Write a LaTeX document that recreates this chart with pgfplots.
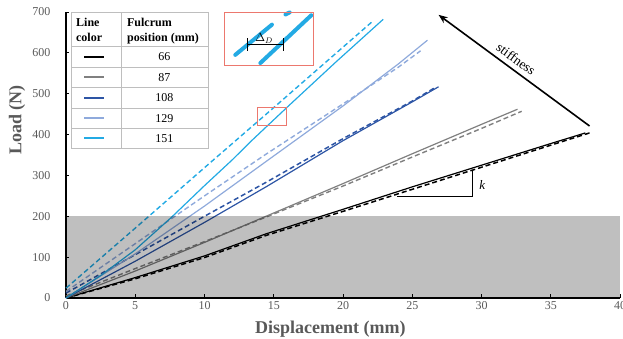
\documentclass[border=0pt]{standalone}
\usepackage{fontspec}
\setmainfont{Liberation Serif}
\usepackage{pgfplots}
\pgfplotsset{compat=1.18}
\usetikzlibrary{arrows.meta}
\definecolor{cgray}{RGB}{128,128,128}
\definecolor{cdblue}{RGB}{45,85,165}
\definecolor{clblue}{RGB}{143,170,220}
\definecolor{ccyan}{RGB}{35,170,228}
\definecolor{txtgray}{RGB}{89,89,89}
\definecolor{tblgray}{RGB}{190,190,190}
\definecolor{inred}{RGB}{236,120,110}
\begin{document}
\begin{tikzpicture}
\useasboundingbox (-66pt,-41pt) rectangle (557pt,298pt);
\begin{axis}[
  at={(0,0)}, anchor=south west,
  width=554pt, height=286pt, scale only axis,
  xmin=0, xmax=40, ymin=0, ymax=700,
  axis x line=bottom, axis y line=left,
  axis line style={-, line width=1.4pt, black},
  xtick={0,5,...,40}, ytick={0,100,...,700},
  tick align=inside, major tick length=3.5pt,
  tick style={black, line width=0.8pt},
  /pgf/number format/assume math mode=true,
  tick label style={font=\fontsize{12}{13}\selectfont, text=txtgray},
  yticklabel style={xshift=-12pt},
  xlabel={Displacement (mm)},
  ylabel={Load (N)},
  xlabel style={font=\fontsize{18}{20}\selectfont\bfseries, text=txtgray, at={(axis description cs:0.477,-0.108)}, anchor=center},
  ylabel style={font=\fontsize{18}{20}\selectfont\bfseries, text=txtgray, at={(axis description cs:-0.0884,0.622)}, anchor=center},
  clip=false,
]
% 66 mm - black
\addplot[black, line width=1.2pt] coordinates {(0,0) (5,50) (10,103) (14.44,157) (20,217) (25,272) (30,325) (35,378) (37.5,404)};
\addplot[black, line width=1.5pt, dash pattern=on 5pt off 3pt] coordinates {(0,0) (5,47) (10,99) (14.44,153) (20,212) (25,266) (30,320) (35,374) (37.8,404)};
% 87 mm - gray
\addplot[cgray, line width=1.2pt] coordinates {(0,0) (5,66) (10,136) (14.44,200) (20,280) (25,353) (30,425) (32.6,462)};
\addplot[cgray, line width=1.4pt, dash pattern=on 5pt off 3pt] coordinates {(0,5) (5,72) (10,138) (14.44,198) (20,274) (25,345) (30,415) (32.9,457)};
% 108 mm - dark blue
\addplot[cdblue, line width=1.2pt] coordinates {(0,0) (5,90) (10,185) (14.44,272) (20,385) (25,480) (26.9,517)};
\addplot[cdblue, line width=1.5pt, dash pattern=on 5pt off 3pt] coordinates {(0,12) (5,106) (10,200) (14.44,283) (20,390) (25,482) (26.6,514)};
% 129 mm - light blue
\addplot[clblue, line width=1.2pt] coordinates {(0,0) (5,108) (10,225) (14.44,334) (20,470) (24,573) (26.1,631)};
\addplot[clblue, line width=1.4pt, dash pattern=on 5pt off 3pt] coordinates {(0,16) (5,133) (10,250) (14.44,352) (20,475) (24,565) (25.6,605)};
% 151 mm - cyan
\addplot[ccyan, line width=1.2pt] coordinates {(0,0) (2.5,55) (5,118) (7.6,197) (10,275) (12,338) (13.4,385) (16,468) (19.5,578) (22.9,682)};
\addplot[ccyan, line width=1.4pt, dash pattern=on 5pt off 3pt] coordinates {(0,24) (5,171) (10,319) (15,466) (20,614) (22.2,679)};
% gray region
\fill[black, opacity=0.25] (axis cs:0,0) rectangle (axis cs:40,200);
% legend table
\fill[white] (axis cs:0.41,366) rectangle (axis cs:10.25,698);
\draw[tblgray, line width=0.8pt] (axis cs:0.41,366) rectangle (axis cs:10.25,698);
\draw[tblgray, line width=0.8pt] (axis cs:0.41,615) -- (axis cs:10.25,615);
\draw[tblgray, line width=0.8pt] (axis cs:0.41,565) -- (axis cs:10.25,565);
\draw[tblgray, line width=0.8pt] (axis cs:0.41,515) -- (axis cs:10.25,515);
\draw[tblgray, line width=0.8pt] (axis cs:0.41,464) -- (axis cs:10.25,464);
\draw[tblgray, line width=0.8pt] (axis cs:0.41,415) -- (axis cs:10.25,415);
\draw[tblgray, line width=0.8pt] (axis cs:3.97,366) -- (axis cs:3.97,698);
\node[anchor=base west, inner sep=0pt, font=\fontsize{12}{13}\selectfont\bfseries] at (axis cs:0.72,664) {Line};
\node[anchor=base west, inner sep=0pt, font=\fontsize{12}{13}\selectfont\bfseries] at (axis cs:0.72,629) {color};
\node[anchor=base west, inner sep=0pt, font=\fontsize{12}{13}\selectfont\bfseries] at (axis cs:4.40,664) {Fulcrum};
\node[anchor=base west, inner sep=0pt, font=\fontsize{12}{13}\selectfont\bfseries] at (axis cs:4.40,629) {position (mm)};
\draw[black, line width=2pt] (axis cs:1.3,590) -- (axis cs:2.74,590);
\draw[cgray, line width=2pt] (axis cs:1.3,540) -- (axis cs:2.74,540);
\draw[cdblue, line width=2pt] (axis cs:1.3,490) -- (axis cs:2.74,490);
\draw[clblue, line width=2pt] (axis cs:1.3,440) -- (axis cs:2.74,440);
\draw[ccyan, line width=2pt] (axis cs:1.3,391) -- (axis cs:2.74,391);
\node[font=\fontsize{12}{13}\selectfont] at (axis cs:7.11,590) {66};
\node[font=\fontsize{12}{13}\selectfont] at (axis cs:7.11,540) {87};
\node[font=\fontsize{12}{13}\selectfont] at (axis cs:7.11,490) {108};
\node[font=\fontsize{12}{13}\selectfont] at (axis cs:7.11,440) {129};
\node[font=\fontsize{12}{13}\selectfont] at (axis cs:7.11,391) {151};
% small red box
\draw[inred, line width=0.9pt] (axis cs:13.8,423) rectangle (axis cs:15.9,467);
% inset
\fill[white] (axis cs:11.41,570) rectangle (axis cs:17.9,700);
\draw[ccyan, line width=4pt, line cap=round] (axis cs:12.22,595) -- (axis cs:14.87,669);
\draw[ccyan, line width=4pt, line cap=round] (axis cs:15.85,694) -- (axis cs:16.15,699);
\draw[ccyan, line width=4pt, line cap=round] (axis cs:14.03,575) -- (axis cs:17.71,692);
\draw[black, line width=0.8pt] (axis cs:13.07,620) -- (axis cs:15.67,620);
\draw[black, line width=0.8pt] (axis cs:13.07,605) -- (axis cs:13.07,636);
\draw[black, line width=0.8pt] (axis cs:15.67,605) -- (axis cs:15.67,636);
\node[inner sep=0pt, font=\fontsize{12}{14}\selectfont] at (axis cs:14.3,636) {$\Delta_D$};
\draw[inred, line width=0.9pt] (axis cs:11.41,570) rectangle (axis cs:17.9,700);
% stiffness arrow
\draw[-{Stealth[length=9pt,width=7pt]}, line width=1.6pt] (axis cs:37.8,421) -- (axis cs:26.9,693);
\node[rotate=-36.3, font=\fontsize{13.5}{15}\selectfont] at (axis cs:32.5,585) {stiffness};
% k triangle
\draw[black, line width=0.8pt] (axis cs:23.9,248) -- (axis cs:29.36,248) -- (axis cs:29.36,313);
\node[anchor=west, font=\fontsize{13}{15}\selectfont\itshape] at (axis cs:29.6,277) {k};
\end{axis}
\end{tikzpicture}
\end{document}
